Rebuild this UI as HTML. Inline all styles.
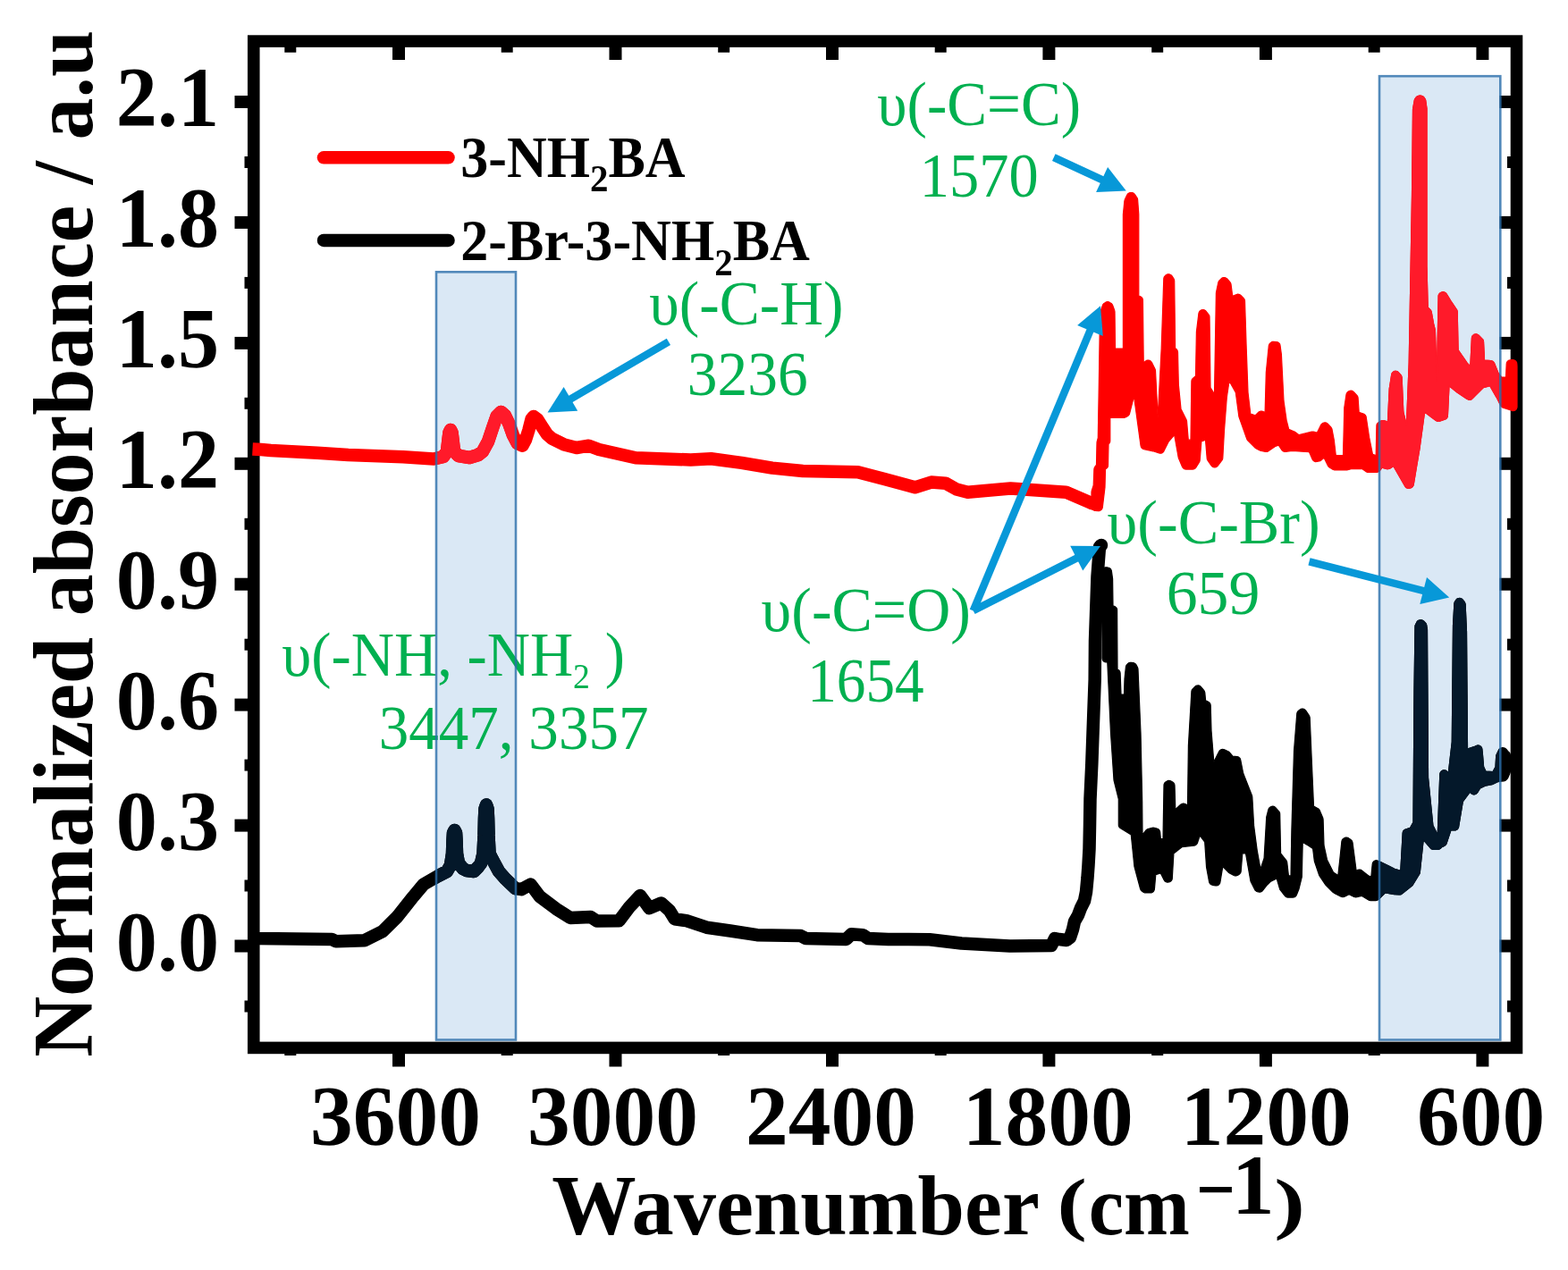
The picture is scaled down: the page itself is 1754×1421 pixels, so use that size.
<!DOCTYPE html>
<html><head><meta charset="utf-8"><title>FTIR spectra of 3-NH2BA and 2-Br-3-NH2BA</title>
<style>
html,body{margin:0;padding:0;background:#fff;}
body{width:1754px;height:1421px;overflow:hidden;}
svg{display:block;}
.tk{font-family:"Liberation Serif","Times New Roman",serif;font-weight:bold;}
.gr{font-family:"Liberation Serif","Times New Roman",serif;fill:#00B050;}
</style></head><body>
<svg width="1754" height="1421" viewBox="0 0 1754 1421">
<rect width="1754" height="1421" fill="#fff"/>
<rect x="488" y="304.3" width="89.0" height="859.2" fill="#DAE8F5"/>
<rect x="1543" y="85.2" width="135.3" height="1078.3" fill="#DAE8F5"/>
<rect x="283.75" y="46.1" width="1412.75" height="1126.3" fill="none" stroke="#000" stroke-width="13.6"/>
<g fill="#000"><rect x="262.5" y="1051.5" width="21" height="14"/><rect x="1677.5" y="1051.5" width="19" height="14"/><rect x="262.5" y="916.6" width="21" height="14"/><rect x="1677.5" y="916.6" width="19" height="14"/><rect x="262.5" y="781.6" width="21" height="14"/><rect x="1677.5" y="781.6" width="19" height="14"/><rect x="262.5" y="646.7" width="21" height="14"/><rect x="1677.5" y="646.7" width="19" height="14"/><rect x="262.5" y="511.8" width="21" height="14"/><rect x="1677.5" y="511.8" width="19" height="14"/><rect x="262.5" y="376.9" width="21" height="14"/><rect x="1677.5" y="376.9" width="19" height="14"/><rect x="262.5" y="241.9" width="21" height="14"/><rect x="1677.5" y="241.9" width="19" height="14"/><rect x="262.5" y="107.0" width="21" height="14"/><rect x="1677.5" y="107.0" width="19" height="14"/><rect x="273.5" y="1119.5" width="10" height="13"/><rect x="1686" y="1119.5" width="10" height="13"/><rect x="273.5" y="984.5" width="10" height="13"/><rect x="1686" y="984.5" width="10" height="13"/><rect x="273.5" y="849.6" width="10" height="13"/><rect x="1686" y="849.6" width="10" height="13"/><rect x="273.5" y="714.7" width="10" height="13"/><rect x="1686" y="714.7" width="10" height="13"/><rect x="273.5" y="579.8" width="10" height="13"/><rect x="1686" y="579.8" width="10" height="13"/><rect x="273.5" y="444.8" width="10" height="13"/><rect x="1686" y="444.8" width="10" height="13"/><rect x="273.5" y="309.9" width="10" height="13"/><rect x="1686" y="309.9" width="10" height="13"/><rect x="273.5" y="175.0" width="10" height="13"/><rect x="1686" y="175.0" width="10" height="13"/><rect x="439.0" y="1172" width="14" height="21.5"/><rect x="439.0" y="46" width="14" height="21"/><rect x="681.5" y="1172" width="14" height="21.5"/><rect x="681.5" y="46" width="14" height="21"/><rect x="924.0" y="1172" width="14" height="21.5"/><rect x="924.0" y="46" width="14" height="21"/><rect x="1166.4" y="1172" width="14" height="21.5"/><rect x="1166.4" y="46" width="14" height="21"/><rect x="1408.9" y="1172" width="14" height="21.5"/><rect x="1408.9" y="46" width="14" height="21"/><rect x="1651.4" y="1172" width="14" height="21.5"/><rect x="1651.4" y="46" width="14" height="21"/><rect x="318.3" y="1172" width="13" height="9"/><rect x="318.3" y="46" width="13" height="12.7"/><rect x="560.7" y="1172" width="13" height="9"/><rect x="560.7" y="46" width="13" height="12.7"/><rect x="803.2" y="1172" width="13" height="9"/><rect x="803.2" y="46" width="13" height="12.7"/><rect x="1045.7" y="1172" width="13" height="9"/><rect x="1045.7" y="46" width="13" height="12.7"/><rect x="1288.2" y="1172" width="13" height="9"/><rect x="1288.2" y="46" width="13" height="12.7"/><rect x="1530.7" y="1172" width="13" height="9"/><rect x="1530.7" y="46" width="13" height="12.7"/></g>
<polyline points="282.5,502.5 292.0,503.0 303.0,504.0 355.0,506.7 389.5,509.0 451.0,511.2 485.0,513.5 496.0,511.0 500.0,505.0 501.5,492.0 502.5,484.0 504.0,481.0 505.5,484.0 506.5,492.0 508.0,505.0 513.0,510.0 525.2,512.0 535.0,509.0 540.0,505.0 546.0,494.0 551.0,479.0 555.5,466.0 560.5,461.0 565.0,465.0 569.6,474.7 574.0,487.0 578.7,496.0 584.4,498.7 588.0,492.0 591.3,481.6 594.5,469.0 597.0,466.0 601.0,469.0 606.1,477.0 612.0,486.0 617.5,490.7 631.2,497.5 644.9,501.0 658.6,498.7 670.0,503.0 711.0,512.2 772.6,514.5 795.4,513.3 829.6,517.9 863.8,523.6 898.0,527.0 959.6,528.2 989.3,536.1 1023.5,545.3 1041.7,539.6 1057.7,540.7 1070.0,547.5 1082.5,550.7 1130.4,546.5 1192.4,550.7 1222.0,563.4" fill="none" stroke="#FF0000" stroke-width="14.5" stroke-linejoin="round" stroke-linecap="butt"/>
<circle cx="1222" cy="563.4" r="7.25" fill="#FF0000"/>
<polygon points="1221.2,549.3 1221.0,550.7 1221.0,566.9 1221.1,568.0 1221.5,569.0 1222.2,569.9 1223.0,570.6 1224.0,571.1 1225.1,571.3 1228.5,571.6 1229.6,571.6 1230.7,571.2 1231.7,570.6 1232.5,569.8 1233.0,568.8 1233.3,567.7 1236.0,545.2 1236.0,544.8 1236.5,525.0 1237.5,524.3 1238.4,523.6 1239.0,522.7 1239.4,521.7 1239.5,520.6 1240.0,497.0 1240.6,496.3 1241.3,495.4 1241.7,494.4 1241.8,493.3 1241.8,467.4 1256.7,467.4 1257.8,467.3 1258.8,466.9 1261.3,465.6 1262.3,464.9 1263.1,463.9 1263.6,462.7 1268.5,443.3 1272.5,472.7 1276.1,498.9 1276.4,499.9 1276.9,500.9 1277.6,501.7 1278.6,502.3 1279.6,502.6 1289.9,504.8 1296.5,507.0 1297.7,507.2 1299.0,507.1 1300.2,506.6 1301.2,505.8 1301.9,504.8 1307.3,494.0 1313.7,486.7 1318.2,511.8 1318.5,512.8 1322.6,522.4 1323.3,523.5 1324.3,524.4 1325.5,524.9 1326.8,525.1 1334.1,525.1 1335.2,525.0 1336.3,524.5 1337.2,523.8 1337.9,522.9 1341.6,516.9 1342.0,516.0 1342.2,514.9 1343.9,494.0 1348.5,492.2 1350.2,512.9 1350.4,514.0 1351.0,515.1 1355.0,520.9 1355.8,521.8 1356.8,522.5 1358.0,522.8 1359.2,522.8 1360.4,522.6 1361.4,522.0 1362.3,521.1 1366.8,515.2 1367.5,514.0 1367.8,512.7 1369.5,481.2 1372.3,444.6 1375.0,426.3 1382.3,439.1 1385.9,466.1 1386.2,467.0 1394.8,491.2 1395.2,492.1 1395.8,492.9 1403.8,500.9 1404.9,501.6 1409.3,504.0 1410.7,504.5 1415.8,505.4 1416.9,505.4 1418.1,505.2 1419.1,504.6 1426.5,499.4 1430.3,498.1 1433.8,503.4 1434.6,504.3 1435.6,505.0 1436.8,505.3 1438.1,505.3 1445.5,504.4 1464.5,505.7 1468.1,513.9 1468.7,514.9 1469.6,515.7 1470.6,516.3 1471.8,516.6 1473.0,516.5 1475.7,516.0 1477.0,515.6 1478.1,514.8 1481.0,512.0 1485.4,521.0 1486.1,522.1 1487.2,522.9 1491.3,525.4 1492.4,525.8 1493.6,526.0 1505.7,526.0 1506.8,525.9 1511.4,524.7 1524.0,524.7 1527.9,527.6 1529.2,528.3 1530.6,528.5 1539.6,528.5 1541.0,528.3 1542.2,527.7 1543.2,526.8 1546.0,523.2 1551.3,524.6 1552.6,524.7 1553.8,524.5 1555.0,524.0 1558.8,521.4 1566.1,534.2 1571.7,544.0 1572.4,545.0 1573.3,545.7 1574.4,546.1 1575.5,546.3 1576.7,546.2 1577.8,545.9 1579.0,545.4 1580.1,544.6 1580.8,543.5 1581.2,542.3 1584.4,523.2 1588.1,501.4 1588.1,501.2 1593.6,461.0 1600.9,466.5 1606.3,470.6 1607.2,471.1 1608.3,471.4 1609.4,471.5 1610.4,471.2 1616.3,469.3 1617.3,468.8 1618.1,468.1 1618.7,467.3 1619.2,466.3 1619.4,465.2 1621.0,431.7 1630.0,439.0 1630.4,439.2 1640.8,446.2 1641.4,446.5 1641.9,446.8 1643.0,447.2 1644.1,447.2 1645.2,447.1 1646.2,446.6 1647.1,445.9 1652.1,440.9 1659.4,433.6 1666.7,431.7 1674.1,444.6 1678.8,453.9 1679.4,454.8 1680.3,455.6 1681.3,456.1 1690.9,459.3 1690.9,459.3 1691.4,459.5 1692.5,459.7 1693.7,459.5 1694.8,459.1 1695.7,458.3 1696.4,457.4 1696.8,456.3 1697.0,455.2 1697.0,410.1 1697.0,409.9 1696.8,407.0 1696.6,405.8 1696.1,404.8 1695.4,403.9 1694.4,403.2 1693.3,402.8 1692.1,402.7 1689.5,402.8 1688.4,403.0 1687.4,403.4 1686.5,404.1 1685.8,405.0 1685.4,406.0 1685.2,407.1 1684.5,422.0 1679.7,422.0 1676.2,418.0 1671.6,406.5 1671.0,405.5 1670.1,404.6 1669.1,404.0 1667.9,403.7 1660.5,403.0 1659.5,382.2 1659.3,381.1 1658.9,380.1 1658.2,379.3 1654.1,375.2 1653.2,374.5 1652.1,374.1 1651.0,373.9 1649.9,374.0 1648.8,374.4 1647.9,375.1 1647.1,376.0 1646.6,377.0 1646.4,378.2 1644.8,409.8 1641.1,406.1 1631.1,391.5 1630.2,348.9 1630.0,347.7 1629.5,346.5 1622.8,336.6 1618.0,328.8 1617.3,327.9 1616.2,327.2 1615.1,326.8 1613.9,326.7 1612.7,327.0 1611.6,327.5 1610.9,328.0 1610.2,328.7 1609.6,329.5 1609.2,330.5 1609.1,331.6 1607.3,426.3 1605.4,370.0 1605.3,369.0 1603.6,362.2 1601.2,349.0 1600.7,347.7 1599.9,346.6 1597.2,343.9 1596.0,298.0 1596.0,122.3 1596.0,121.7 1594.7,112.3 1594.3,111.1 1593.6,110.0 1592.6,108.7 1591.8,108.0 1590.9,107.5 1589.9,107.2 1589.2,107.1 1587.8,107.1 1587.1,107.2 1586.1,107.5 1585.2,108.0 1584.4,108.7 1583.3,110.1 1582.6,111.1 1582.3,112.2 1580.6,121.6 1580.5,122.4 1579.5,219.0 1576.2,406.1 1573.4,475.7 1569.8,461.0 1568.1,422.4 1567.9,421.4 1567.5,420.4 1567.0,419.6 1564.5,416.8 1563.7,416.1 1562.7,415.6 1561.6,415.3 1560.4,415.4 1559.3,415.7 1558.4,416.3 1557.6,417.1 1557.0,418.0 1556.7,419.1 1554.2,435.2 1554.2,435.6 1552.4,472.0 1547.9,470.7 1546.7,470.6 1545.4,470.7 1544.3,471.3 1542.0,472.7 1541.1,473.4 1540.4,474.3 1540.0,475.3 1539.9,476.4 1539.2,509.5 1535.4,508.2 1531.6,489.2 1528.2,466.6 1527.9,465.5 1527.2,464.4 1526.3,463.6 1525.2,463.0 1520.2,461.4 1519.1,445.2 1518.9,444.2 1518.5,443.3 1517.9,442.4 1514.4,438.6 1513.5,437.9 1512.4,437.4 1511.2,437.2 1510.0,437.3 1508.9,437.7 1508.2,438.1 1507.2,439.0 1506.4,440.1 1506.0,441.4 1503.8,456.0 1503.8,456.6 1502.5,509.5 1494.3,509.5 1492.4,493.2 1492.4,492.8 1490.0,480.3 1489.6,479.2 1489.0,478.2 1485.5,474.4 1484.7,473.7 1483.8,473.2 1482.7,472.9 1481.7,472.9 1480.6,473.2 1480.1,473.4 1479.1,473.9 1478.2,474.7 1477.6,475.6 1473.3,484.2 1469.4,483.2 1468.3,483.0 1467.2,483.2 1463.2,484.2 1453.1,486.7 1448.5,483.3 1447.4,482.7 1441.7,480.4 1439.1,470.2 1436.0,448.7 1433.4,396.9 1433.4,396.5 1432.0,386.4 1431.7,385.2 1431.0,384.2 1430.1,383.4 1429.0,382.8 1427.8,382.6 1424.7,382.3 1423.4,382.4 1422.3,382.9 1421.3,383.6 1420.7,384.2 1420.0,385.0 1419.6,385.9 1419.3,386.9 1416.3,416.8 1416.3,417.2 1415.1,461.4 1412.4,460.4 1411.2,460.1 1409.9,460.2 1408.7,460.6 1407.6,461.4 1404.3,464.7 1398.8,463.0 1396.0,439.0 1394.2,389.7 1392.5,336.7 1392.3,335.6 1391.8,334.5 1391.1,333.6 1388.0,330.5 1387.0,329.8 1385.8,329.3 1384.5,329.2 1383.3,329.5 1378.7,331.2 1377.0,318.0 1376.6,316.7 1375.9,315.6 1372.7,312.0 1371.7,311.2 1370.6,310.7 1369.4,310.5 1368.2,310.6 1367.1,311.0 1366.1,311.8 1364.0,313.9 1363.3,314.9 1362.8,316.1 1360.5,327.2 1360.4,328.0 1358.5,441.0 1354.0,433.6 1353.0,354.7 1352.8,353.3 1352.1,352.0 1349.2,348.3 1348.4,347.5 1347.4,346.9 1346.3,346.6 1345.2,346.6 1344.1,346.8 1343.1,347.3 1342.9,347.5 1342.0,348.3 1341.3,349.4 1340.9,350.7 1338.4,371.3 1338.4,371.7 1337.5,420.8 1334.6,423.2 1333.7,424.1 1333.1,425.3 1332.9,426.6 1332.0,492.2 1329.3,492.2 1327.5,471.1 1327.0,469.4 1321.0,457.4 1318.3,430.0 1317.5,393.9 1317.3,392.9 1316.9,391.9 1316.3,391.0 1315.5,390.3 1314.6,389.7 1313.7,314.3 1313.5,313.1 1313.0,311.9 1310.9,308.7 1310.1,307.8 1309.0,307.2 1307.9,306.8 1306.6,306.8 1305.4,307.1 1304.4,307.7 1303.6,308.3 1302.7,309.3 1302.1,310.4 1301.8,311.7 1299.2,389.8 1295.2,467.4 1292.5,414.8 1292.4,413.9 1292.1,413.1 1288.4,405.5 1287.7,404.6 1286.9,403.8 1285.9,403.3 1284.7,403.0 1283.6,403.1 1282.5,403.4 1281.5,404.0 1279.2,405.9 1278.4,335.9 1278.2,334.6 1277.7,333.5 1276.8,332.5 1275.7,331.8 1273.8,331.0 1273.8,240.2 1273.8,239.8 1272.6,223.2 1272.3,222.1 1271.8,221.0 1269.3,217.4 1268.6,216.6 1267.7,216.0 1266.7,215.6 1265.6,215.5 1264.9,215.5 1263.6,215.7 1262.4,216.2 1261.5,217.0 1260.8,218.1 1258.3,223.3 1257.9,224.8 1256.4,239.8 1256.4,240.2 1256.4,390.0 1247.5,390.0 1247.0,348.8 1246.7,347.3 1244.6,341.5 1244.1,340.6 1243.5,339.8 1242.7,339.2 1241.3,338.4 1240.2,337.9 1239.0,337.7 1237.8,337.9 1236.7,338.4 1235.4,339.2 1234.6,339.8 1233.9,340.6 1233.5,341.5 1230.7,349.3 1230.5,350.7 1229.5,419.0 1228.3,490.0 1227.1,494.5 1227.0,495.5 1226.5,520.0 1224.8,522.4 1224.2,523.6 1223.9,524.8 1223.2,543.0 1221.2,549.3" fill="#FF0000" stroke="#FF0000" stroke-width="1.2" stroke-linejoin="round"/>
<polyline points="282.5,1049.7 289.0,1050.0 371.2,1051.0 375.8,1053.3 407.7,1052.2 428.2,1041.9 444.2,1026.0 462.4,1003.1 473.8,989.5 489.8,980.3 500.0,975.0 504.0,968.0 506.0,955.0 506.5,940.0 507.0,932.0 508.5,929.0 510.0,932.0 510.5,940.0 511.0,955.0 513.0,966.0 518.0,972.0 522.0,974.0 530.0,975.0 535.0,970.0 538.0,966.0 540.5,955.0 541.5,935.0 542.0,915.0 542.5,905.0 544.0,900.5 545.5,905.0 546.0,915.0 546.5,935.0 547.5,955.0 551.0,962.0 558.0,975.0 565.0,983.0 576.5,994.0 583.3,995.2 593.6,989.5 603.8,1003.1 622.0,1016.8 638.0,1027.0 660.8,1026.0 667.7,1030.5 692.6,1030.2 703.9,1015.2 716.1,1002.0 726.4,1016.1 739.6,1010.5 749.0,1018.9 754.7,1028.3 767.8,1030.2 790.4,1037.7 816.8,1041.5 846.9,1046.2 895.8,1047.1 901.4,1050.0 946.6,1050.9 952.2,1045.3 965.4,1046.2 971.0,1050.0 993.6,1050.9 1039.9,1051.3 1075.5,1055.5 1129.7,1058.4 1176.0,1058.0 1180.0,1050.0 1185.0,1051.0 1193.0,1052.0 1197.0,1049.0 1200.0,1040.0 1202.0,1031.0 1206.0,1024.0 1209.0,1016.0 1213.0,1008.0 1215.0,998.0 1216.5,982.0 1217.5,968.0 1218.5,950.0 1219.0,925.0 1219.5,894.0 1221.3,855.0 1222.9,810.0 1224.7,760.0 1225.0,717.0 1227.5,645.0 1230.0,612.0 1232.0,610.0" fill="none" stroke="#000" stroke-width="14.5" stroke-linejoin="round" stroke-linecap="butt"/>
<circle cx="1232" cy="610" r="7.25" fill="#000"/>
<polygon points="1238.6,634.9 1237.4,634.8 1236.3,634.9 1235.2,635.4 1234.3,636.1 1233.6,637.0 1233.2,638.1 1233.0,639.3 1233.0,736.5 1233.2,737.7 1233.6,738.8 1234.3,739.7 1235.2,740.4 1236.3,740.8 1237.5,741.0 1238.8,741.0 1242.5,820.0 1242.5,820.0 1246.0,872.6 1246.1,873.4 1251.3,894.0 1251.3,923.0 1251.4,924.1 1251.9,925.2 1252.6,926.1 1253.5,926.8 1265.3,934.0 1268.9,969.1 1269.0,969.9 1275.6,994.5 1276.0,995.4 1276.5,996.3 1277.2,996.9 1278.8,998.1 1280.1,998.8 1281.5,999.0 1286.9,999.0 1288.0,998.9 1289.0,998.5 1289.9,997.8 1290.6,997.0 1291.1,996.0 1291.4,994.9 1292.8,978.8 1298.3,977.0 1302.2,984.7 1302.9,985.7 1303.8,986.5 1304.9,987.0 1306.1,987.2 1307.3,987.0 1307.9,986.9 1308.9,986.5 1309.9,985.8 1310.6,984.9 1311.1,983.9 1311.3,982.8 1312.9,955.0 1322.1,947.7 1335.7,946.1 1337.0,945.8 1338.1,945.1 1338.9,944.2 1339.5,943.1 1342.2,934.8 1347.7,942.2 1349.5,969.3 1349.5,969.9 1352.6,986.7 1353.0,987.7 1353.5,988.7 1354.3,989.4 1355.3,990.0 1356.3,990.3 1359.8,990.9 1360.9,990.9 1362.1,990.6 1363.1,990.1 1364.0,989.3 1364.6,988.3 1364.9,987.2 1367.8,969.6 1374.7,976.5 1375.9,977.3 1380.2,979.5 1381.3,979.8 1382.5,979.9 1383.6,979.7 1384.7,979.2 1386.2,978.2 1387.2,977.3 1387.9,976.1 1388.2,974.8 1389.8,955.0 1393.5,955.0 1398.9,985.5 1399.3,986.7 1403.6,995.3 1404.3,996.3 1405.3,997.1 1406.4,997.6 1407.7,998.0 1409.0,998.2 1410.3,997.9 1411.5,997.4 1412.5,996.5 1417.6,990.0 1421.1,986.5 1428.2,983.0 1431.5,994.4 1431.8,995.3 1432.3,996.0 1437.3,1002.4 1438.3,1003.3 1439.5,1003.9 1440.9,1004.1 1446.2,1004.1 1447.3,1004.0 1448.3,1003.6 1449.2,1003.0 1449.9,1002.2 1450.4,1001.3 1452.7,995.6 1452.9,995.0 1456.2,981.7 1456.3,980.7 1457.2,942.5 1463.4,946.0 1468.6,949.5 1470.3,963.2 1470.5,964.0 1475.5,978.9 1476.0,980.0 1482.5,989.6 1483.0,990.3 1491.0,998.3 1492.2,999.1 1500.1,1003.1 1501.1,1003.4 1502.1,1003.6 1503.1,1003.4 1504.1,1003.1 1509.1,1000.6 1514.7,1003.4 1515.7,1003.7 1516.8,1003.8 1517.8,1003.7 1523.2,1002.3 1530.9,1007.0 1532.0,1007.4 1533.3,1007.6 1538.9,1007.6 1540.1,1007.4 1541.2,1007.0 1542.1,1006.3 1549.6,998.8 1559.8,1000.6 1560.2,1000.6 1565.0,1001.0 1566.1,1001.0 1567.2,1000.7 1568.2,1000.1 1579.5,991.0 1580.5,989.8 1587.7,978.0 1588.1,977.1 1588.3,976.1 1592.2,939.7 1600.2,948.9 1601.1,949.7 1602.3,950.2 1603.6,950.4 1608.2,950.4 1609.5,950.2 1610.7,949.6 1611.3,949.3 1612.2,948.4 1612.7,947.6 1613.8,947.4 1614.9,946.8 1616.3,945.9 1617.1,945.2 1617.7,944.4 1618.1,943.5 1622.9,929.0 1627.2,929.0 1628.4,928.8 1629.6,928.3 1630.5,927.5 1631.2,926.4 1631.6,925.2 1636.3,896.9 1644.3,886.2 1645.7,887.6 1646.6,888.3 1647.7,888.7 1648.8,888.9 1649.9,888.7 1651.0,888.3 1651.9,887.6 1652.7,886.7 1655.6,882.0 1661.3,879.2 1669.1,877.6 1670.2,877.2 1675.3,874.7 1679.3,874.2 1679.3,874.2 1682.3,873.8 1683.7,873.4 1684.9,872.5 1686.0,871.4 1686.5,870.8 1686.9,870.0 1689.1,864.8 1689.4,863.1 1689.4,845.0 1689.2,843.7 1688.7,842.6 1688.0,841.7 1686.6,840.4 1685.0,838.4 1684.1,837.6 1683.1,837.1 1682.0,836.8 1681.1,836.7 1680.0,836.7 1679.0,837.0 1678.0,837.6 1677.2,838.3 1676.6,839.2 1674.2,844.2 1673.9,845.0 1673.7,845.9 1673.0,858.0 1670.0,863.5 1662.0,863.0 1659.6,858.0 1658.4,843.9 1658.4,843.7 1657.8,838.1 1657.5,836.9 1656.9,835.9 1656.0,835.0 1655.0,834.4 1653.8,834.1 1652.6,834.2 1651.4,834.5 1649.7,835.3 1641.5,838.0 1640.5,707.0 1640.5,706.8 1639.1,676.2 1638.8,674.9 1638.2,673.7 1636.4,671.3 1635.6,670.5 1634.8,669.9 1633.7,669.6 1632.7,669.4 1632.4,669.5 1631.3,669.6 1630.3,670.0 1629.4,670.6 1628.7,671.5 1627.7,673.0 1627.2,674.1 1626.9,675.2 1625.5,699.9 1625.5,700.1 1624.3,830.0 1620.3,864.8 1618.6,863.1 1617.7,862.4 1616.7,862.0 1615.6,861.8 1614.5,861.9 1613.5,862.2 1612.6,862.8 1611.8,863.6 1611.7,863.7 1611.1,864.9 1610.8,866.2 1608.2,934.3 1602.9,923.6 1597.5,870.1 1596.5,705.3 1596.5,704.7 1595.7,699.5 1595.3,698.1 1594.4,696.9 1592.5,695.0 1591.4,694.2 1590.2,693.8 1588.9,693.7 1588.5,693.8 1587.4,694.0 1586.4,694.5 1585.5,695.3 1584.9,696.2 1583.5,699.1 1583.1,700.0 1583.0,701.0 1582.0,773.8 1582.0,773.8 1581.0,920.0 1577.5,926.3 1572.3,928.0 1571.3,928.5 1570.5,929.2 1569.8,930.0 1569.4,931.0 1569.2,932.0 1566.8,974.4 1560.0,972.4 1553.1,968.9 1553.1,968.9 1541.7,963.2 1540.5,962.8 1539.3,962.7 1538.1,963.0 1537.0,963.6 1536.1,964.5 1535.5,965.6 1535.2,966.8 1533.8,981.2 1530.3,979.5 1523.6,974.1 1522.5,973.4 1521.4,973.1 1520.2,973.1 1519.0,973.4 1517.1,974.2 1515.3,960.1 1515.3,960.1 1513.0,942.6 1512.6,941.5 1512.0,940.4 1511.1,939.6 1508.7,937.9 1507.6,937.3 1506.4,937.1 1505.2,937.1 1504.1,937.5 1503.4,937.9 1502.5,938.5 1501.7,939.4 1501.2,940.3 1500.9,941.4 1498.6,963.6 1496.8,979.5 1491.5,976.0 1484.5,961.9 1481.0,946.0 1480.1,916.9 1479.8,915.3 1476.3,906.9 1475.8,906.1 1475.2,905.3 1474.4,904.7 1469.5,902.0 1467.8,863.3 1465.2,803.0 1464.9,801.8 1464.4,800.7 1460.7,795.1 1459.8,794.2 1458.8,793.5 1457.7,793.1 1456.4,793.1 1455.3,793.4 1454.2,794.0 1452.6,795.2 1451.7,796.1 1451.1,797.2 1450.8,798.4 1447.5,840.3 1447.5,840.5 1444.9,928.4 1444.9,928.4 1444.0,980.3 1441.4,979.5 1439.7,964.9 1439.4,963.7 1438.8,962.6 1432.6,954.8 1431.7,910.8 1431.6,909.7 1431.2,908.7 1430.6,907.9 1426.9,903.7 1426.0,902.9 1425.0,902.4 1423.8,902.2 1422.6,902.3 1421.5,902.7 1421.2,902.9 1420.2,903.6 1419.4,904.6 1418.9,905.7 1416.8,913.9 1416.7,914.7 1414.1,960.1 1410.0,972.4 1406.2,951.3 1402.6,923.9 1400.8,891.7 1400.5,890.3 1390.7,865.3 1387.7,850.2 1387.4,849.1 1386.8,848.2 1385.9,847.4 1384.9,846.9 1383.9,846.6 1378.8,846.0 1375.8,842.3 1375.1,841.6 1374.3,841.1 1369.7,838.8 1368.7,838.5 1367.6,838.4 1366.5,838.5 1365.4,839.0 1364.6,839.7 1363.9,840.5 1363.4,841.4 1363.2,841.7 1357.8,852.5 1355.0,817.7 1354.2,789.3 1354.0,788.1 1353.5,787.0 1352.7,786.1 1351.7,785.4 1348.6,783.9 1347.8,775.1 1347.5,773.9 1346.9,772.7 1343.5,768.6 1342.6,767.7 1341.5,767.1 1340.3,766.9 1339.0,767.0 1337.8,767.4 1336.8,768.2 1334.2,770.8 1333.5,771.6 1333.1,772.6 1332.9,773.7 1329.4,834.1 1329.4,834.3 1328.5,901.0 1325.8,899.6 1324.7,899.2 1323.7,899.1 1322.6,899.3 1321.6,899.7 1320.7,900.3 1314.8,905.6 1314.0,878.8 1313.8,877.7 1313.3,876.6 1312.6,875.7 1311.7,875.0 1309.9,874.0 1308.8,873.5 1307.5,873.4 1306.3,873.6 1305.2,874.2 1303.9,875.0 1303.1,875.7 1302.5,876.6 1302.1,877.6 1302.0,878.6 1301.0,938.5 1298.3,938.5 1297.7,931.1 1297.4,930.1 1297.0,929.1 1296.3,928.2 1295.4,927.6 1294.4,927.2 1291.2,926.3 1290.0,926.2 1288.8,926.3 1284.1,927.6 1282.8,928.2 1281.8,929.2 1278.0,934.0 1277.7,897.0 1277.7,897.0 1276.0,820.0 1276.0,820.0 1273.0,749.0 1272.9,748.0 1272.6,747.1 1271.1,744.1 1270.5,743.2 1269.7,742.5 1268.7,741.9 1267.7,741.7 1265.4,741.3 1264.3,741.3 1263.2,741.6 1262.2,742.1 1261.4,742.8 1260.4,743.9 1259.7,745.1 1259.4,746.4 1258.0,759.8 1258.0,760.2 1257.5,777.0 1254.0,777.0 1253.1,753.1 1252.9,752.0 1252.5,751.0 1251.9,750.2 1251.0,749.5 1250.0,749.0 1250.0,749.0 1249.6,682.6 1249.5,681.4 1249.0,680.3 1248.2,679.4 1247.2,678.6 1246.1,678.2 1245.0,678.0 1244.6,648.3 1244.6,647.7 1243.4,639.0 1243.1,638.0 1242.6,637.0 1241.9,636.2 1241.0,635.6 1240.0,635.3 1238.6,634.9" fill="#000" stroke="#000" stroke-width="1.2" stroke-linejoin="round"/>
<clipPath id="rc"><rect x="488.0" y="304.3" width="89.0" height="859.2"/><rect x="1543.0" y="85.2" width="135.3" height="1078.3"/></clipPath>
<g clip-path="url(#rc)">
<polyline points="282.5,502.5 292.0,503.0 303.0,504.0 355.0,506.7 389.5,509.0 451.0,511.2 485.0,513.5 496.0,511.0 500.0,505.0 501.5,492.0 502.5,484.0 504.0,481.0 505.5,484.0 506.5,492.0 508.0,505.0 513.0,510.0 525.2,512.0 535.0,509.0 540.0,505.0 546.0,494.0 551.0,479.0 555.5,466.0 560.5,461.0 565.0,465.0 569.6,474.7 574.0,487.0 578.7,496.0 584.4,498.7 588.0,492.0 591.3,481.6 594.5,469.0 597.0,466.0 601.0,469.0 606.1,477.0 612.0,486.0 617.5,490.7 631.2,497.5 644.9,501.0 658.6,498.7 670.0,503.0 711.0,512.2 772.6,514.5 795.4,513.3 829.6,517.9 863.8,523.6 898.0,527.0 959.6,528.2 989.3,536.1 1023.5,545.3 1041.7,539.6 1057.7,540.7 1070.0,547.5 1082.5,550.7 1130.4,546.5 1192.4,550.7 1222.0,563.4" fill="none" stroke="#FF1A2A" stroke-width="14.5" stroke-linejoin="round" stroke-linecap="butt"/>
<polygon points="1221.2,549.3 1221.0,550.7 1221.0,566.9 1221.1,568.0 1221.5,569.0 1222.2,569.9 1223.0,570.6 1224.0,571.1 1225.1,571.3 1228.5,571.6 1229.6,571.6 1230.7,571.2 1231.7,570.6 1232.5,569.8 1233.0,568.8 1233.3,567.7 1236.0,545.2 1236.0,544.8 1236.5,525.0 1237.5,524.3 1238.4,523.6 1239.0,522.7 1239.4,521.7 1239.5,520.6 1240.0,497.0 1240.6,496.3 1241.3,495.4 1241.7,494.4 1241.8,493.3 1241.8,467.4 1256.7,467.4 1257.8,467.3 1258.8,466.9 1261.3,465.6 1262.3,464.9 1263.1,463.9 1263.6,462.7 1268.5,443.3 1272.5,472.7 1276.1,498.9 1276.4,499.9 1276.9,500.9 1277.6,501.7 1278.6,502.3 1279.6,502.6 1289.9,504.8 1296.5,507.0 1297.7,507.2 1299.0,507.1 1300.2,506.6 1301.2,505.8 1301.9,504.8 1307.3,494.0 1313.7,486.7 1318.2,511.8 1318.5,512.8 1322.6,522.4 1323.3,523.5 1324.3,524.4 1325.5,524.9 1326.8,525.1 1334.1,525.1 1335.2,525.0 1336.3,524.5 1337.2,523.8 1337.9,522.9 1341.6,516.9 1342.0,516.0 1342.2,514.9 1343.9,494.0 1348.5,492.2 1350.2,512.9 1350.4,514.0 1351.0,515.1 1355.0,520.9 1355.8,521.8 1356.8,522.5 1358.0,522.8 1359.2,522.8 1360.4,522.6 1361.4,522.0 1362.3,521.1 1366.8,515.2 1367.5,514.0 1367.8,512.7 1369.5,481.2 1372.3,444.6 1375.0,426.3 1382.3,439.1 1385.9,466.1 1386.2,467.0 1394.8,491.2 1395.2,492.1 1395.8,492.9 1403.8,500.9 1404.9,501.6 1409.3,504.0 1410.7,504.5 1415.8,505.4 1416.9,505.4 1418.1,505.2 1419.1,504.6 1426.5,499.4 1430.3,498.1 1433.8,503.4 1434.6,504.3 1435.6,505.0 1436.8,505.3 1438.1,505.3 1445.5,504.4 1464.5,505.7 1468.1,513.9 1468.7,514.9 1469.6,515.7 1470.6,516.3 1471.8,516.6 1473.0,516.5 1475.7,516.0 1477.0,515.6 1478.1,514.8 1481.0,512.0 1485.4,521.0 1486.1,522.1 1487.2,522.9 1491.3,525.4 1492.4,525.8 1493.6,526.0 1505.7,526.0 1506.8,525.9 1511.4,524.7 1524.0,524.7 1527.9,527.6 1529.2,528.3 1530.6,528.5 1539.6,528.5 1541.0,528.3 1542.2,527.7 1543.2,526.8 1546.0,523.2 1551.3,524.6 1552.6,524.7 1553.8,524.5 1555.0,524.0 1558.8,521.4 1566.1,534.2 1571.7,544.0 1572.4,545.0 1573.3,545.7 1574.4,546.1 1575.5,546.3 1576.7,546.2 1577.8,545.9 1579.0,545.4 1580.1,544.6 1580.8,543.5 1581.2,542.3 1584.4,523.2 1588.1,501.4 1588.1,501.2 1593.6,461.0 1600.9,466.5 1606.3,470.6 1607.2,471.1 1608.3,471.4 1609.4,471.5 1610.4,471.2 1616.3,469.3 1617.3,468.8 1618.1,468.1 1618.7,467.3 1619.2,466.3 1619.4,465.2 1621.0,431.7 1630.0,439.0 1630.4,439.2 1640.8,446.2 1641.4,446.5 1641.9,446.8 1643.0,447.2 1644.1,447.2 1645.2,447.1 1646.2,446.6 1647.1,445.9 1652.1,440.9 1659.4,433.6 1666.7,431.7 1674.1,444.6 1678.8,453.9 1679.4,454.8 1680.3,455.6 1681.3,456.1 1690.9,459.3 1690.9,459.3 1691.4,459.5 1692.5,459.7 1693.7,459.5 1694.8,459.1 1695.7,458.3 1696.4,457.4 1696.8,456.3 1697.0,455.2 1697.0,410.1 1697.0,409.9 1696.8,407.0 1696.6,405.8 1696.1,404.8 1695.4,403.9 1694.4,403.2 1693.3,402.8 1692.1,402.7 1689.5,402.8 1688.4,403.0 1687.4,403.4 1686.5,404.1 1685.8,405.0 1685.4,406.0 1685.2,407.1 1684.5,422.0 1679.7,422.0 1676.2,418.0 1671.6,406.5 1671.0,405.5 1670.1,404.6 1669.1,404.0 1667.9,403.7 1660.5,403.0 1659.5,382.2 1659.3,381.1 1658.9,380.1 1658.2,379.3 1654.1,375.2 1653.2,374.5 1652.1,374.1 1651.0,373.9 1649.9,374.0 1648.8,374.4 1647.9,375.1 1647.1,376.0 1646.6,377.0 1646.4,378.2 1644.8,409.8 1641.1,406.1 1631.1,391.5 1630.2,348.9 1630.0,347.7 1629.5,346.5 1622.8,336.6 1618.0,328.8 1617.3,327.9 1616.2,327.2 1615.1,326.8 1613.9,326.7 1612.7,327.0 1611.6,327.5 1610.9,328.0 1610.2,328.7 1609.6,329.5 1609.2,330.5 1609.1,331.6 1607.3,426.3 1605.4,370.0 1605.3,369.0 1603.6,362.2 1601.2,349.0 1600.7,347.7 1599.9,346.6 1597.2,343.9 1596.0,298.0 1596.0,122.3 1596.0,121.7 1594.7,112.3 1594.3,111.1 1593.6,110.0 1592.6,108.7 1591.8,108.0 1590.9,107.5 1589.9,107.2 1589.2,107.1 1587.8,107.1 1587.1,107.2 1586.1,107.5 1585.2,108.0 1584.4,108.7 1583.3,110.1 1582.6,111.1 1582.3,112.2 1580.6,121.6 1580.5,122.4 1579.5,219.0 1576.2,406.1 1573.4,475.7 1569.8,461.0 1568.1,422.4 1567.9,421.4 1567.5,420.4 1567.0,419.6 1564.5,416.8 1563.7,416.1 1562.7,415.6 1561.6,415.3 1560.4,415.4 1559.3,415.7 1558.4,416.3 1557.6,417.1 1557.0,418.0 1556.7,419.1 1554.2,435.2 1554.2,435.6 1552.4,472.0 1547.9,470.7 1546.7,470.6 1545.4,470.7 1544.3,471.3 1542.0,472.7 1541.1,473.4 1540.4,474.3 1540.0,475.3 1539.9,476.4 1539.2,509.5 1535.4,508.2 1531.6,489.2 1528.2,466.6 1527.9,465.5 1527.2,464.4 1526.3,463.6 1525.2,463.0 1520.2,461.4 1519.1,445.2 1518.9,444.2 1518.5,443.3 1517.9,442.4 1514.4,438.6 1513.5,437.9 1512.4,437.4 1511.2,437.2 1510.0,437.3 1508.9,437.7 1508.2,438.1 1507.2,439.0 1506.4,440.1 1506.0,441.4 1503.8,456.0 1503.8,456.6 1502.5,509.5 1494.3,509.5 1492.4,493.2 1492.4,492.8 1490.0,480.3 1489.6,479.2 1489.0,478.2 1485.5,474.4 1484.7,473.7 1483.8,473.2 1482.7,472.9 1481.7,472.9 1480.6,473.2 1480.1,473.4 1479.1,473.9 1478.2,474.7 1477.6,475.6 1473.3,484.2 1469.4,483.2 1468.3,483.0 1467.2,483.2 1463.2,484.2 1453.1,486.7 1448.5,483.3 1447.4,482.7 1441.7,480.4 1439.1,470.2 1436.0,448.7 1433.4,396.9 1433.4,396.5 1432.0,386.4 1431.7,385.2 1431.0,384.2 1430.1,383.4 1429.0,382.8 1427.8,382.6 1424.7,382.3 1423.4,382.4 1422.3,382.9 1421.3,383.6 1420.7,384.2 1420.0,385.0 1419.6,385.9 1419.3,386.9 1416.3,416.8 1416.3,417.2 1415.1,461.4 1412.4,460.4 1411.2,460.1 1409.9,460.2 1408.7,460.6 1407.6,461.4 1404.3,464.7 1398.8,463.0 1396.0,439.0 1394.2,389.7 1392.5,336.7 1392.3,335.6 1391.8,334.5 1391.1,333.6 1388.0,330.5 1387.0,329.8 1385.8,329.3 1384.5,329.2 1383.3,329.5 1378.7,331.2 1377.0,318.0 1376.6,316.7 1375.9,315.6 1372.7,312.0 1371.7,311.2 1370.6,310.7 1369.4,310.5 1368.2,310.6 1367.1,311.0 1366.1,311.8 1364.0,313.9 1363.3,314.9 1362.8,316.1 1360.5,327.2 1360.4,328.0 1358.5,441.0 1354.0,433.6 1353.0,354.7 1352.8,353.3 1352.1,352.0 1349.2,348.3 1348.4,347.5 1347.4,346.9 1346.3,346.6 1345.2,346.6 1344.1,346.8 1343.1,347.3 1342.9,347.5 1342.0,348.3 1341.3,349.4 1340.9,350.7 1338.4,371.3 1338.4,371.7 1337.5,420.8 1334.6,423.2 1333.7,424.1 1333.1,425.3 1332.9,426.6 1332.0,492.2 1329.3,492.2 1327.5,471.1 1327.0,469.4 1321.0,457.4 1318.3,430.0 1317.5,393.9 1317.3,392.9 1316.9,391.9 1316.3,391.0 1315.5,390.3 1314.6,389.7 1313.7,314.3 1313.5,313.1 1313.0,311.9 1310.9,308.7 1310.1,307.8 1309.0,307.2 1307.9,306.8 1306.6,306.8 1305.4,307.1 1304.4,307.7 1303.6,308.3 1302.7,309.3 1302.1,310.4 1301.8,311.7 1299.2,389.8 1295.2,467.4 1292.5,414.8 1292.4,413.9 1292.1,413.1 1288.4,405.5 1287.7,404.6 1286.9,403.8 1285.9,403.3 1284.7,403.0 1283.6,403.1 1282.5,403.4 1281.5,404.0 1279.2,405.9 1278.4,335.9 1278.2,334.6 1277.7,333.5 1276.8,332.5 1275.7,331.8 1273.8,331.0 1273.8,240.2 1273.8,239.8 1272.6,223.2 1272.3,222.1 1271.8,221.0 1269.3,217.4 1268.6,216.6 1267.7,216.0 1266.7,215.6 1265.6,215.5 1264.9,215.5 1263.6,215.7 1262.4,216.2 1261.5,217.0 1260.8,218.1 1258.3,223.3 1257.9,224.8 1256.4,239.8 1256.4,240.2 1256.4,390.0 1247.5,390.0 1247.0,348.8 1246.7,347.3 1244.6,341.5 1244.1,340.6 1243.5,339.8 1242.7,339.2 1241.3,338.4 1240.2,337.9 1239.0,337.7 1237.8,337.9 1236.7,338.4 1235.4,339.2 1234.6,339.8 1233.9,340.6 1233.5,341.5 1230.7,349.3 1230.5,350.7 1229.5,419.0 1228.3,490.0 1227.1,494.5 1227.0,495.5 1226.5,520.0 1224.8,522.4 1224.2,523.6 1223.9,524.8 1223.2,543.0 1221.2,549.3" fill="#FF1A2A" stroke="#FF1A2A" stroke-width="1.2" stroke-linejoin="round"/>
<polyline points="282.5,1049.7 289.0,1050.0 371.2,1051.0 375.8,1053.3 407.7,1052.2 428.2,1041.9 444.2,1026.0 462.4,1003.1 473.8,989.5 489.8,980.3 500.0,975.0 504.0,968.0 506.0,955.0 506.5,940.0 507.0,932.0 508.5,929.0 510.0,932.0 510.5,940.0 511.0,955.0 513.0,966.0 518.0,972.0 522.0,974.0 530.0,975.0 535.0,970.0 538.0,966.0 540.5,955.0 541.5,935.0 542.0,915.0 542.5,905.0 544.0,900.5 545.5,905.0 546.0,915.0 546.5,935.0 547.5,955.0 551.0,962.0 558.0,975.0 565.0,983.0 576.5,994.0 583.3,995.2 593.6,989.5 603.8,1003.1 622.0,1016.8 638.0,1027.0 660.8,1026.0 667.7,1030.5 692.6,1030.2 703.9,1015.2 716.1,1002.0 726.4,1016.1 739.6,1010.5 749.0,1018.9 754.7,1028.3 767.8,1030.2 790.4,1037.7 816.8,1041.5 846.9,1046.2 895.8,1047.1 901.4,1050.0 946.6,1050.9 952.2,1045.3 965.4,1046.2 971.0,1050.0 993.6,1050.9 1039.9,1051.3 1075.5,1055.5 1129.7,1058.4 1176.0,1058.0 1180.0,1050.0 1185.0,1051.0 1193.0,1052.0 1197.0,1049.0 1200.0,1040.0 1202.0,1031.0 1206.0,1024.0 1209.0,1016.0 1213.0,1008.0 1215.0,998.0 1216.5,982.0 1217.5,968.0 1218.5,950.0 1219.0,925.0 1219.5,894.0 1221.3,855.0 1222.9,810.0 1224.7,760.0 1225.0,717.0 1227.5,645.0 1230.0,612.0 1232.0,610.0" fill="none" stroke="#04182A" stroke-width="14.5" stroke-linejoin="round" stroke-linecap="butt"/>
<polygon points="1238.6,634.9 1237.4,634.8 1236.3,634.9 1235.2,635.4 1234.3,636.1 1233.6,637.0 1233.2,638.1 1233.0,639.3 1233.0,736.5 1233.2,737.7 1233.6,738.8 1234.3,739.7 1235.2,740.4 1236.3,740.8 1237.5,741.0 1238.8,741.0 1242.5,820.0 1242.5,820.0 1246.0,872.6 1246.1,873.4 1251.3,894.0 1251.3,923.0 1251.4,924.1 1251.9,925.2 1252.6,926.1 1253.5,926.8 1265.3,934.0 1268.9,969.1 1269.0,969.9 1275.6,994.5 1276.0,995.4 1276.5,996.3 1277.2,996.9 1278.8,998.1 1280.1,998.8 1281.5,999.0 1286.9,999.0 1288.0,998.9 1289.0,998.5 1289.9,997.8 1290.6,997.0 1291.1,996.0 1291.4,994.9 1292.8,978.8 1298.3,977.0 1302.2,984.7 1302.9,985.7 1303.8,986.5 1304.9,987.0 1306.1,987.2 1307.3,987.0 1307.9,986.9 1308.9,986.5 1309.9,985.8 1310.6,984.9 1311.1,983.9 1311.3,982.8 1312.9,955.0 1322.1,947.7 1335.7,946.1 1337.0,945.8 1338.1,945.1 1338.9,944.2 1339.5,943.1 1342.2,934.8 1347.7,942.2 1349.5,969.3 1349.5,969.9 1352.6,986.7 1353.0,987.7 1353.5,988.7 1354.3,989.4 1355.3,990.0 1356.3,990.3 1359.8,990.9 1360.9,990.9 1362.1,990.6 1363.1,990.1 1364.0,989.3 1364.6,988.3 1364.9,987.2 1367.8,969.6 1374.7,976.5 1375.9,977.3 1380.2,979.5 1381.3,979.8 1382.5,979.9 1383.6,979.7 1384.7,979.2 1386.2,978.2 1387.2,977.3 1387.9,976.1 1388.2,974.8 1389.8,955.0 1393.5,955.0 1398.9,985.5 1399.3,986.7 1403.6,995.3 1404.3,996.3 1405.3,997.1 1406.4,997.6 1407.7,998.0 1409.0,998.2 1410.3,997.9 1411.5,997.4 1412.5,996.5 1417.6,990.0 1421.1,986.5 1428.2,983.0 1431.5,994.4 1431.8,995.3 1432.3,996.0 1437.3,1002.4 1438.3,1003.3 1439.5,1003.9 1440.9,1004.1 1446.2,1004.1 1447.3,1004.0 1448.3,1003.6 1449.2,1003.0 1449.9,1002.2 1450.4,1001.3 1452.7,995.6 1452.9,995.0 1456.2,981.7 1456.3,980.7 1457.2,942.5 1463.4,946.0 1468.6,949.5 1470.3,963.2 1470.5,964.0 1475.5,978.9 1476.0,980.0 1482.5,989.6 1483.0,990.3 1491.0,998.3 1492.2,999.1 1500.1,1003.1 1501.1,1003.4 1502.1,1003.6 1503.1,1003.4 1504.1,1003.1 1509.1,1000.6 1514.7,1003.4 1515.7,1003.7 1516.8,1003.8 1517.8,1003.7 1523.2,1002.3 1530.9,1007.0 1532.0,1007.4 1533.3,1007.6 1538.9,1007.6 1540.1,1007.4 1541.2,1007.0 1542.1,1006.3 1549.6,998.8 1559.8,1000.6 1560.2,1000.6 1565.0,1001.0 1566.1,1001.0 1567.2,1000.7 1568.2,1000.1 1579.5,991.0 1580.5,989.8 1587.7,978.0 1588.1,977.1 1588.3,976.1 1592.2,939.7 1600.2,948.9 1601.1,949.7 1602.3,950.2 1603.6,950.4 1608.2,950.4 1609.5,950.2 1610.7,949.6 1611.3,949.3 1612.2,948.4 1612.7,947.6 1613.8,947.4 1614.9,946.8 1616.3,945.9 1617.1,945.2 1617.7,944.4 1618.1,943.5 1622.9,929.0 1627.2,929.0 1628.4,928.8 1629.6,928.3 1630.5,927.5 1631.2,926.4 1631.6,925.2 1636.3,896.9 1644.3,886.2 1645.7,887.6 1646.6,888.3 1647.7,888.7 1648.8,888.9 1649.9,888.7 1651.0,888.3 1651.9,887.6 1652.7,886.7 1655.6,882.0 1661.3,879.2 1669.1,877.6 1670.2,877.2 1675.3,874.7 1679.3,874.2 1679.3,874.2 1682.3,873.8 1683.7,873.4 1684.9,872.5 1686.0,871.4 1686.5,870.8 1686.9,870.0 1689.1,864.8 1689.4,863.1 1689.4,845.0 1689.2,843.7 1688.7,842.6 1688.0,841.7 1686.6,840.4 1685.0,838.4 1684.1,837.6 1683.1,837.1 1682.0,836.8 1681.1,836.7 1680.0,836.7 1679.0,837.0 1678.0,837.6 1677.2,838.3 1676.6,839.2 1674.2,844.2 1673.9,845.0 1673.7,845.9 1673.0,858.0 1670.0,863.5 1662.0,863.0 1659.6,858.0 1658.4,843.9 1658.4,843.7 1657.8,838.1 1657.5,836.9 1656.9,835.9 1656.0,835.0 1655.0,834.4 1653.8,834.1 1652.6,834.2 1651.4,834.5 1649.7,835.3 1641.5,838.0 1640.5,707.0 1640.5,706.8 1639.1,676.2 1638.8,674.9 1638.2,673.7 1636.4,671.3 1635.6,670.5 1634.8,669.9 1633.7,669.6 1632.7,669.4 1632.4,669.5 1631.3,669.6 1630.3,670.0 1629.4,670.6 1628.7,671.5 1627.7,673.0 1627.2,674.1 1626.9,675.2 1625.5,699.9 1625.5,700.1 1624.3,830.0 1620.3,864.8 1618.6,863.1 1617.7,862.4 1616.7,862.0 1615.6,861.8 1614.5,861.9 1613.5,862.2 1612.6,862.8 1611.8,863.6 1611.7,863.7 1611.1,864.9 1610.8,866.2 1608.2,934.3 1602.9,923.6 1597.5,870.1 1596.5,705.3 1596.5,704.7 1595.7,699.5 1595.3,698.1 1594.4,696.9 1592.5,695.0 1591.4,694.2 1590.2,693.8 1588.9,693.7 1588.5,693.8 1587.4,694.0 1586.4,694.5 1585.5,695.3 1584.9,696.2 1583.5,699.1 1583.1,700.0 1583.0,701.0 1582.0,773.8 1582.0,773.8 1581.0,920.0 1577.5,926.3 1572.3,928.0 1571.3,928.5 1570.5,929.2 1569.8,930.0 1569.4,931.0 1569.2,932.0 1566.8,974.4 1560.0,972.4 1553.1,968.9 1553.1,968.9 1541.7,963.2 1540.5,962.8 1539.3,962.7 1538.1,963.0 1537.0,963.6 1536.1,964.5 1535.5,965.6 1535.2,966.8 1533.8,981.2 1530.3,979.5 1523.6,974.1 1522.5,973.4 1521.4,973.1 1520.2,973.1 1519.0,973.4 1517.1,974.2 1515.3,960.1 1515.3,960.1 1513.0,942.6 1512.6,941.5 1512.0,940.4 1511.1,939.6 1508.7,937.9 1507.6,937.3 1506.4,937.1 1505.2,937.1 1504.1,937.5 1503.4,937.9 1502.5,938.5 1501.7,939.4 1501.2,940.3 1500.9,941.4 1498.6,963.6 1496.8,979.5 1491.5,976.0 1484.5,961.9 1481.0,946.0 1480.1,916.9 1479.8,915.3 1476.3,906.9 1475.8,906.1 1475.2,905.3 1474.4,904.7 1469.5,902.0 1467.8,863.3 1465.2,803.0 1464.9,801.8 1464.4,800.7 1460.7,795.1 1459.8,794.2 1458.8,793.5 1457.7,793.1 1456.4,793.1 1455.3,793.4 1454.2,794.0 1452.6,795.2 1451.7,796.1 1451.1,797.2 1450.8,798.4 1447.5,840.3 1447.5,840.5 1444.9,928.4 1444.9,928.4 1444.0,980.3 1441.4,979.5 1439.7,964.9 1439.4,963.7 1438.8,962.6 1432.6,954.8 1431.7,910.8 1431.6,909.7 1431.2,908.7 1430.6,907.9 1426.9,903.7 1426.0,902.9 1425.0,902.4 1423.8,902.2 1422.6,902.3 1421.5,902.7 1421.2,902.9 1420.2,903.6 1419.4,904.6 1418.9,905.7 1416.8,913.9 1416.7,914.7 1414.1,960.1 1410.0,972.4 1406.2,951.3 1402.6,923.9 1400.8,891.7 1400.5,890.3 1390.7,865.3 1387.7,850.2 1387.4,849.1 1386.8,848.2 1385.9,847.4 1384.9,846.9 1383.9,846.6 1378.8,846.0 1375.8,842.3 1375.1,841.6 1374.3,841.1 1369.7,838.8 1368.7,838.5 1367.6,838.4 1366.5,838.5 1365.4,839.0 1364.6,839.7 1363.9,840.5 1363.4,841.4 1363.2,841.7 1357.8,852.5 1355.0,817.7 1354.2,789.3 1354.0,788.1 1353.5,787.0 1352.7,786.1 1351.7,785.4 1348.6,783.9 1347.8,775.1 1347.5,773.9 1346.9,772.7 1343.5,768.6 1342.6,767.7 1341.5,767.1 1340.3,766.9 1339.0,767.0 1337.8,767.4 1336.8,768.2 1334.2,770.8 1333.5,771.6 1333.1,772.6 1332.9,773.7 1329.4,834.1 1329.4,834.3 1328.5,901.0 1325.8,899.6 1324.7,899.2 1323.7,899.1 1322.6,899.3 1321.6,899.7 1320.7,900.3 1314.8,905.6 1314.0,878.8 1313.8,877.7 1313.3,876.6 1312.6,875.7 1311.7,875.0 1309.9,874.0 1308.8,873.5 1307.5,873.4 1306.3,873.6 1305.2,874.2 1303.9,875.0 1303.1,875.7 1302.5,876.6 1302.1,877.6 1302.0,878.6 1301.0,938.5 1298.3,938.5 1297.7,931.1 1297.4,930.1 1297.0,929.1 1296.3,928.2 1295.4,927.6 1294.4,927.2 1291.2,926.3 1290.0,926.2 1288.8,926.3 1284.1,927.6 1282.8,928.2 1281.8,929.2 1278.0,934.0 1277.7,897.0 1277.7,897.0 1276.0,820.0 1276.0,820.0 1273.0,749.0 1272.9,748.0 1272.6,747.1 1271.1,744.1 1270.5,743.2 1269.7,742.5 1268.7,741.9 1267.7,741.7 1265.4,741.3 1264.3,741.3 1263.2,741.6 1262.2,742.1 1261.4,742.8 1260.4,743.9 1259.7,745.1 1259.4,746.4 1258.0,759.8 1258.0,760.2 1257.5,777.0 1254.0,777.0 1253.1,753.1 1252.9,752.0 1252.5,751.0 1251.9,750.2 1251.0,749.5 1250.0,749.0 1250.0,749.0 1249.6,682.6 1249.5,681.4 1249.0,680.3 1248.2,679.4 1247.2,678.6 1246.1,678.2 1245.0,678.0 1244.6,648.3 1244.6,647.7 1243.4,639.0 1243.1,638.0 1242.6,637.0 1241.9,636.2 1241.0,635.6 1240.0,635.3 1238.6,634.9" fill="#04182A" stroke="#04182A" stroke-width="1.2" stroke-linejoin="round"/>
</g>
<g class="tk" font-size="95.5" fill="#000"><text transform="translate(245,1085.6) scale(0.965,1)" text-anchor="end">0.0</text><text transform="translate(245,950.7) scale(0.965,1)" text-anchor="end">0.3</text><text transform="translate(245,815.7) scale(0.965,1)" text-anchor="end">0.6</text><text transform="translate(245,680.8) scale(0.965,1)" text-anchor="end">0.9</text><text transform="translate(245,545.8) scale(0.965,1)" text-anchor="end">1.2</text><text transform="translate(245,410.9) scale(0.965,1)" text-anchor="end">1.5</text><text transform="translate(245,276.0) scale(0.965,1)" text-anchor="end">1.8</text><text transform="translate(245,141.0) scale(0.965,1)" text-anchor="end">2.1</text><text x="442.4" y="1281.4" text-anchor="middle">3600</text><text x="685.5" y="1281.4" text-anchor="middle">3000</text><text x="929.5" y="1281.4" text-anchor="middle">2400</text><text x="1172.3" y="1281.4" text-anchor="middle">1800</text><text x="1416.2" y="1281.4" text-anchor="middle">1200</text><text x="1656.7" y="1281.4" text-anchor="middle">600</text></g>
<text class="tk" transform="translate(617.31,1380.50) scale(0.9940,1.0000)" font-size="95" fill="#000">Wavenumber</text>
<text class="tk" transform="translate(1182.49,1372.87) scale(1.0520,0.8314)" font-size="95" fill="#000">(</text>
<text class="tk" transform="translate(1217.80,1380.50) scale(0.9325,1.0000)" font-size="95" fill="#000">cm</text>
<text class="tk" transform="translate(1337.83,1361.30) scale(0.8136,0.9429)" font-size="95" fill="#000">&#8722;</text>
<text class="tk" transform="translate(1378.00,1358.40) scale(1.0000,1.0000)" font-size="95" fill="#000">1</text>
<text class="tk" transform="translate(1425.21,1372.34) scale(1.0958,0.8081)" font-size="95" fill="#000">)</text>
<text class="tk" transform="translate(103.4,1182.80) rotate(-90) scale(0.9981,1)" font-size="94.2" fill="#000">Normalized absorbance / a.u</text>
<line x1="362" y1="176.3" x2="501.5" y2="176.3" stroke="#FF0000" stroke-width="14.5" stroke-linecap="round"/>
<line x1="362" y1="268.9" x2="501.5" y2="268.9" stroke="#000" stroke-width="14.5" stroke-linecap="round"/>
<text class="tk" transform="translate(515.29,197.50) scale(0.9540,1.0000)" font-size="65" fill="#000">3-NH<tspan dy="16.7" font-size="43">2</tspan><tspan dy="-16.7">BA</tspan></text>
<text class="tk" transform="translate(515.33,291.10) scale(0.9551,1.0000)" font-size="65" fill="#000">2-Br-3-NH<tspan dy="16.7" font-size="43">2</tspan><tspan dy="-16.7">BA</tspan></text>
<text class="gr" transform="translate(981.33,140.00) scale(0.9735,1.0000)" font-size="69">&#965;(-C=C)</text>
<text class="gr" transform="translate(1028.83,219.60) scale(0.9620,1.0000)" font-size="69">1570</text>
<text class="gr" transform="translate(726.32,362.80) scale(0.9789,1.0000)" font-size="69">&#965;(-C-H)</text>
<text class="gr" transform="translate(768.77,441.90) scale(0.9774,1.0000)" font-size="69">3236</text>
<text class="gr" transform="translate(851.61,706.00) scale(0.9850,1.0000)" font-size="69">&#965;(-C=O)</text>
<text class="gr" transform="translate(903.23,785.30) scale(0.9450,1.0000)" font-size="69">1654</text>
<text class="gr" transform="translate(1238.41,608.20) scale(0.9890,1.0000)" font-size="69">&#965;(-C-Br)</text>
<text class="gr" transform="translate(1304.67,687.30) scale(1.0112,1.0000)" font-size="69">659</text>
<text class="gr" transform="translate(315.33,756.40) scale(0.9672,1.0000)" font-size="69">&#965;(-NH, -NH<tspan dy="13.8" font-size="39">2</tspan><tspan dy="-13.8"> )</tspan></text>
<text class="gr" transform="translate(423.79,838.00) scale(0.9716,1.0000)" font-size="69">3447, 3357</text>
<rect x="488" y="304.3" width="89.0" height="859.2" fill="none" stroke="#2A6EAA" stroke-opacity="0.8" stroke-width="2.6"/>
<rect x="1543" y="85.2" width="135.3" height="1078.3" fill="none" stroke="#2A6EAA" stroke-opacity="0.8" stroke-width="2.6"/>
<line x1="1178.8" y1="176.2" x2="1234.4" y2="201.9" stroke="#0798D8" stroke-width="8.5"/><polygon points="1259.8,213.6 1226.1,215.1 1239.1,187.0" fill="#0798D8"/>
<line x1="747.9" y1="382.3" x2="636.7" y2="447.3" stroke="#0798D8" stroke-width="8.5"/><polygon points="612.5,461.4 630.6,432.9 646.2,459.7" fill="#0798D8"/>
<line x1="1088.7" y1="683.3" x2="1220.2" y2="368.1" stroke="#0798D8" stroke-width="8.5"/><polygon points="1231.0,342.3 1233.8,376.0 1205.1,364.0" fill="#0798D8"/>
<line x1="1088.7" y1="683.3" x2="1206.0" y2="623.7" stroke="#0798D8" stroke-width="8.5"/><polygon points="1231.0,611.0 1211.3,638.4 1197.2,610.8" fill="#0798D8"/>
<line x1="1464.5" y1="628.3" x2="1594.1" y2="661.5" stroke="#0798D8" stroke-width="8.5"/><polygon points="1621.2,668.5 1588.3,676.1 1596.0,646.0" fill="#0798D8"/>
</svg></body></html>
